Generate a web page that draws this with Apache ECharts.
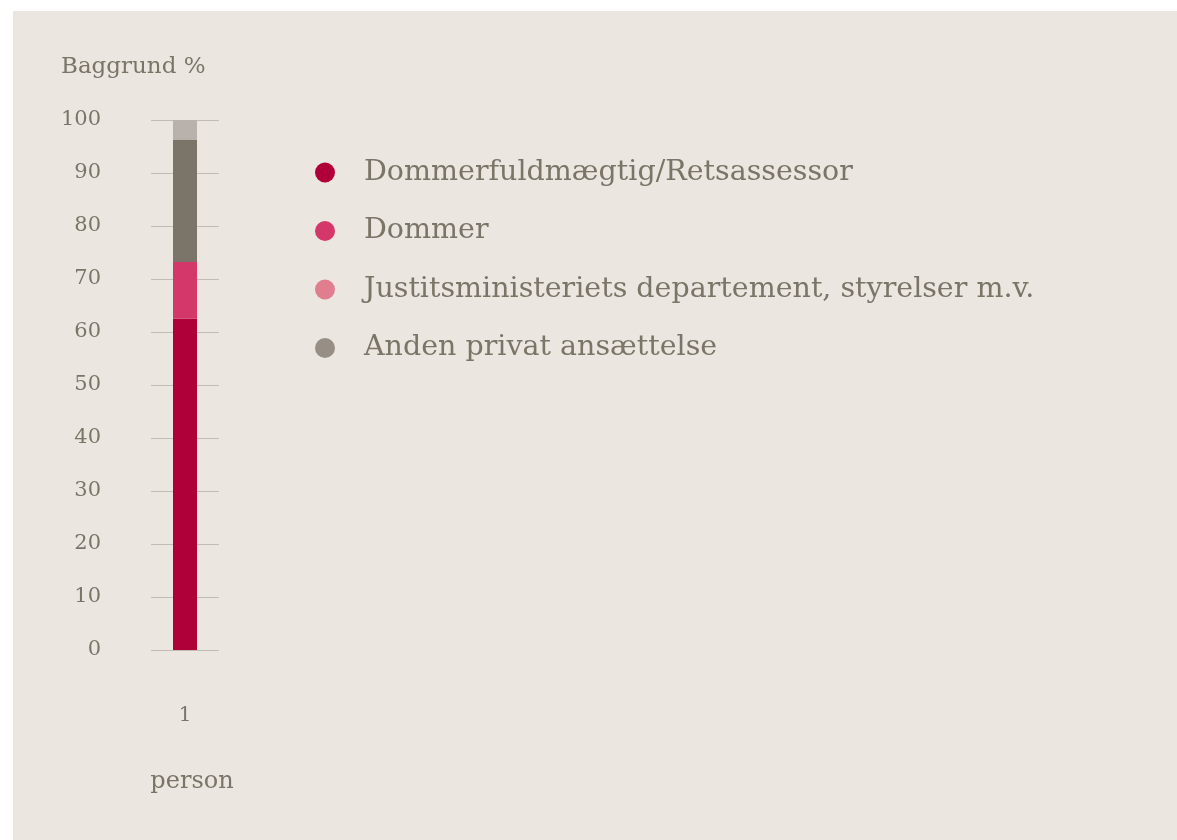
<!DOCTYPE html>
<html>
<head>
<meta charset="utf-8">
<script src="https://cdn.jsdelivr.net/npm/echarts@6/dist/echarts.min.js"></script>
<style>
html, body { margin: 0; padding: 0; background: #fff; }
#chart { width: 1177px; height: 840px; }
</style>
</head>
<body>
<div id="chart"></div>
<script>
var categories = ['1'];
var seriesNames = ['Dommerfuldmægtig/Retsassessor', 'Dommer', 'Justitsministeriets departement, styrelser m.v.', 'Anden privat ansættelse', 'Øvrige'];
var seriesValues = [[62.5], [10.7], [0], [23.1], [3.7]];
var barColors = ['#b0003a', '#d43769', '#e07d8f', '#7b7569', '#b9b2ac'];
var legendColors = ['#b0003a', '#d43769', '#e07d8f', '#978e85'];
var yTicks = { min: 0, max: 100, interval: 10 };

var chart = echarts.init(document.getElementById('chart'));
var font = 'Georgia, "DejaVu Serif", serif';
var textColor = '#7b7568';

var series = [];
for (var i = 0; i < seriesNames.length; i++) {
    series.push({
        name: seriesNames[i],
        type: 'bar',
        stack: 'total',
        barWidth: 24,
        data: seriesValues[i],
        itemStyle: { color: barColors[i] },
        emphasis: { disabled: true }
    });
}

var legendData = [];
for (var j = 0; j < legendColors.length; j++) {
    legendData.push({ name: seriesNames[j], itemStyle: { color: legendColors[j] } });
}

var option = {
    animation: false,
    backgroundColor: '#ffffff',
    graphic: [{
        type: 'rect',
        left: 13, top: 11,
        shape: { width: 1164, height: 829 },
        style: { fill: '#ebe6e0' },
        z: -10
    }],
    title: {
        text: 'Baggrund %',
        left: 56, top: 51,
        textStyle: { fontFamily: font, fontSize: 23, fontWeight: 'normal', color: textColor }
    },
    legend: {
        orient: 'vertical',
        left: 310, top: 153,
        icon: 'circle',
        itemWidth: 20, itemHeight: 20,
        itemGap: 29.5,
        textStyle: { fontFamily: font, fontSize: 28.5, color: textColor, padding: [0, 0, 0, 24] },
        data: legendData,
        selectedMode: false
    },
    grid: { left: 151, top: 120, width: 68, bottom: 190 },
    xAxis: {
        type: 'category',
        data: categories,
        name: 'person',
        nameLocation: 'middle',
        nameGap: 120,
        nameTextStyle: { fontFamily: font, fontSize: 24, color: textColor, padding: [0, 0, 0, 14] },
        axisLine: { show: false },
        axisTick: { show: false },
        axisLabel: { margin: 56, fontFamily: font, fontSize: 20, color: textColor }
    },
    yAxis: {
        type: 'value',
        min: yTicks.min, max: yTicks.max, interval: yTicks.interval,
        axisLine: { show: false },
        axisTick: { show: false },
        splitLine: { lineStyle: { color: '#c3bcb5', width: 1 } },
        axisLabel: { margin: 50, fontFamily: font, fontSize: 21, color: textColor }
    },
    series: series
};

chart.setOption(option);
</script>
</body>
</html>
